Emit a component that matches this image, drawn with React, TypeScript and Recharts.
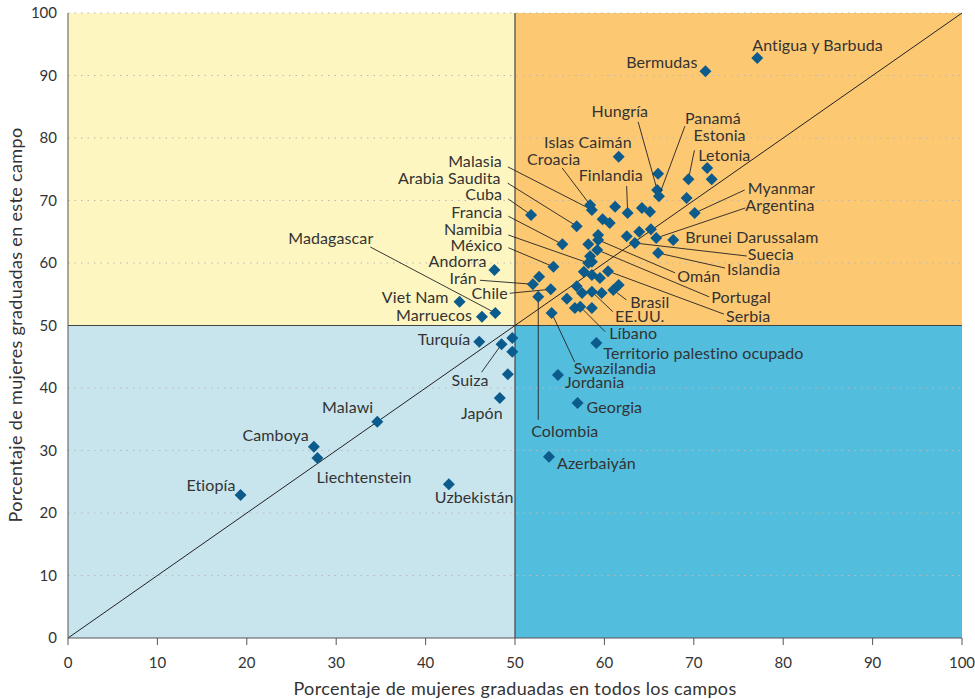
import React from "react";
import {
  ScatterChart,
  Scatter,
  XAxis,
  YAxis,
  ReferenceArea,
  ReferenceLine,
} from "recharts";

const FONT = "Lato, 'Open Sans', sans-serif";
const INK = "#333";
const MARK = "#0b5b8c";

// labelled countries: % women among all graduates vs % women in this field
const countries = [
  "Antigua y Barbuda", "Bermudas", "Islas Caimán", "Hungría", "Panamá", "Estonia",
  "Letonia", "Myanmar", "Argentina", "Brunei Darussalam", "Suecia", "Islandia",
  "Omán", "Portugal", "Serbia", "Brasil", "EE.UU.", "Líbano",
  "Territorio palestino ocupado", "Swazilandia", "Jordania", "Georgia", "Azerbaiyán",
  "Colombia", "Chile", "Irán", "México", "Namibia", "Francia", "Cuba",
  "Arabia Saudita", "Malasia", "Croacia", "Finlandia", "Andorra", "Viet Nam",
  "Madagascar", "Marruecos", "Turquía", "Suiza", "Japón", "Malawi", "Camboya",
  "Liechtenstein", "Etiopía", "Uzbekistán",
];
const pctAll = [
  77.1, 71.3, 61.6, 65.9, 66.1, 69.4,
  71.5, 70.1, 65.8, 67.7, 63.4, 66.0,
  59.3, 59.2, 60.4, 61.0, 58.6, 57.3,
  59.1, 54.1, 54.8, 57.0, 53.8,
  52.6, 54.0, 52.0, 54.3, 58.2, 55.3, 51.8,
  56.9, 58.6, 58.4, 62.6, 47.7, 43.8,
  47.8, 46.3, 46.0, 48.5, 48.3, 34.6, 27.5,
  27.9, 19.3, 42.6,
];
const pctField = [
  92.8, 90.7, 77.0, 71.7, 70.7, 73.4,
  75.2, 68.0, 64.0, 63.7, 63.2, 61.6,
  63.7, 62.1, 58.7, 55.7, 55.4, 53.0,
  47.2, 52.0, 42.1, 37.6, 29.0,
  54.6, 55.8, 56.6, 59.4, 60.0, 63.0, 67.7,
  65.9, 68.5, 69.3, 68.0, 58.9, 53.8,
  52.0, 51.4, 47.4, 47.0, 38.4, 34.6, 30.6,
  28.8, 22.9, 24.6,
];

// unlabelled countries
const otherAll = [
  66.0, 72.0, 69.2, 61.2, 64.2, 65.1, 59.8, 60.6, 59.3, 62.5, 63.9, 65.2,
  58.2, 58.4, 57.7, 58.6, 59.5, 56.9, 57.5, 59.7, 61.6, 55.8, 56.7, 58.6,
  52.7, 49.7, 49.7, 49.2, 58.6,
];
const otherField = [
  74.3, 73.4, 70.4, 69.0, 68.8, 68.2, 67.0, 66.4, 64.5, 64.3, 65.0, 65.4,
  63.0, 61.1, 58.6, 58.1, 57.6, 56.3, 55.2, 55.2, 56.5, 54.3, 52.8, 52.8,
  57.8, 48.0, 45.8, 42.2, 60.2,
];

const ticks = [0, 10, 20, 30, 40, 50, 60, 70, 80, 90, 100];
const gridLevels = [10, 20, 30, 40, 60, 70, 80, 90, 100];

// label placement: [text dx, text dy, anchor, leader dx, leader dy] in px from the point
type Layout = [number, number, "start" | "end", number?, number?];
const labelLayout: Record<string, Layout> = {
  "Antigua y Barbuda": [-5, -13, "start"],
  Bermudas: [-8, -9, "end"],
  "Islas Caimán": [13, -14, "end"],
  Hungría: [-9, -78, "end", -19, -68],
  Panamá: [26, -78, "start", 26, -70],
  Estonia: [5, -44, "start", 6, -29],
  Letonia: [-9, -13, "start"],
  Myanmar: [53, -25, "start", 50, -23],
  Argentina: [89, -33, "start", 89, -30],
  "Brunei Darussalam": [12, -2, "start"],
  Suecia: [113, 11, "start", 112, 13],
  Islandia: [69, 16, "start", 67, 15],
  Omán: [79, 37, "start", 77, 33],
  Portugal: [114, 48, "start", 112, 47],
  Serbia: [118, 45, "start", 116, 43],
  Brasil: [17, 13, "start", 13, 10],
  "EE.UU.": [23, 25, "start", 21, 20],
  Líbano: [29, 27, "start", 25, 25],
  "Territorio palestino ocupado": [7, 10, "start"],
  Swazilandia: [22, 55, "start", 23, 49],
  Jordania: [7, 8, "start"],
  Georgia: [9, 4, "start"],
  Azerbaiyán: [8, 7, "start"],
  Colombia: [-7, 135, "start", 0, 123],
  Chile: [-43, 4, "end", -41, 4],
  Irán: [-56, -6, "end", -53, -4],
  México: [-51, -21, "end", -45, -19],
  Namibia: [-86, -34, "end", -80, -28],
  Francia: [-60, -32, "end", -54, -28],
  Cuba: [-29, -20, "end", -23, -16],
  "Arabia Saudita": [-76, -48, "end", -69, -43],
  Malasia: [-90, -48, "end", -84, -43],
  Croacia: [-63, -45, "start", -28, -37],
  Finlandia: [-49, -38, "start", -1, -27],
  Andorra: [-8, -8, "end"],
  "Viet Nam": [-11, -4, "end"],
  Madagascar: [-122, -75, "end", -125, -66],
  Marruecos: [-10, -1, "end"],
  Turquía: [-9, -2, "end"],
  Suiza: [-13, 36, "end", -20, 28],
  Japón: [3, 15, "end"],
  Malawi: [-4, -14, "end"],
  Camboya: [-5, -11, "end"],
  Liechtenstein: [-1, 19, "start"],
  Etiopía: [-5, -9, "end"],
  Uzbekistán: [-14, 13, "start"],
};

const labelled = countries.map((name, i) => ({ name, x: pctAll[i], y: pctField[i] }));
const others = otherAll.map((x, i) => ({ x, y: otherField[i] }));

const diamond = (cx: number, cy: number) => (
  <path
    d={`M${cx},${cy - 6}L${cx + 6},${cy}L${cx},${cy + 6}L${cx - 6},${cy}Z`}
    fill={MARK}
  />
);

function PlainPoint(props: any) {
  return diamond(props.cx, props.cy);
}

function LabelledPoint(props: any) {
  const { cx, cy, payload } = props;
  const l = labelLayout[payload.name];
  if (!l) return diamond(cx, cy);
  const [dx, dy, anchor, lx, ly] = l;
  return (
    <g>
      {lx !== undefined && (
        <line x1={cx} y1={cy} x2={cx + lx} y2={cy + (ly ?? 0)} stroke="#222" strokeWidth={0.9} />
      )}
      {diamond(cx, cy)}
      <text
        x={cx + dx}
        y={cy + dy}
        dy="0.35em"
        textAnchor={anchor}
        fill={INK}
        fontSize={16}
        letterSpacing={0.1}
        fontFamily={FONT}
      >
        {payload.name}
      </text>
    </g>
  );
}

export default function App() {
  return (
    <div style={{ position: "absolute", left: 0, top: 0, background: "#fff" }}>
      <ScatterChart width={975} height={699} margin={{ top: 13, right: 13, bottom: 31, left: 0 }}>
        <XAxis
          type="number"
          dataKey="x"
          domain={[0, 100]}
          ticks={ticks}
          tickSize={7}
          tickMargin={12}
          stroke="#555"
          tick={{ fill: INK, fontSize: 15, fontFamily: FONT }}
          height={30}
          label={{
            content: () => (
              <text
                x={515}
                y={689}
                dy="0.35em"
                textAnchor="middle"
                fill={INK}
                fontSize={18}
                letterSpacing={0.35}
                fontFamily={FONT}
              >
                Porcentaje de mujeres graduadas en todos los campos
              </text>
            ),
          }}
        />
        <YAxis
          type="number"
          dataKey="y"
          domain={[0, 100]}
          ticks={ticks}
          tickSize={0}
          tickMargin={11}
          tickLine={false}
          stroke="#555"
          tick={{ fill: INK, fontSize: 15, fontFamily: FONT }}
          width={68}
          label={{
            content: () => (
              <text
                x={16}
                y={325}
                dy="0.35em"
                transform="rotate(-90 16 325)"
                textAnchor="middle"
                fill={INK}
                fontSize={18}
                letterSpacing={0.35}
                fontFamily={FONT}
              >
                Porcentaje de mujeres graduadas en este campo
              </text>
            ),
          }}
        />
        <ReferenceArea x1={0} x2={50} y1={50} y2={100} fill="#fdf6c1" fillOpacity={1} stroke="none" />
        <ReferenceArea x1={50} x2={100} y1={50} y2={100} fill="#fdc872" fillOpacity={1} stroke="none" />
        <ReferenceArea x1={0} x2={50} y1={0} y2={50} fill="#c8e5ee" fillOpacity={1} stroke="none" />
        <ReferenceArea x1={50} x2={100} y1={0} y2={50} fill="#52bddd" fillOpacity={1} stroke="none" />
        {gridLevels.map((v) => (
          <ReferenceLine key={v} y={v} stroke="#b9b9b9" strokeDasharray="1.5 5" />
        ))}
        <ReferenceLine x={50} stroke="#444" strokeWidth={1.2} />
        <ReferenceLine y={50} stroke="#444" strokeWidth={1.2} />
        <ReferenceLine
          segment={[
            { x: 0, y: 0 },
            { x: 100, y: 100 },
          ]}
          stroke="#222"
          strokeWidth={1}
        />
        <Scatter data={others} shape={PlainPoint} isAnimationActive={false} />
        <Scatter data={labelled} shape={LabelledPoint} isAnimationActive={false} />
      </ScatterChart>
    </div>
  );
}
